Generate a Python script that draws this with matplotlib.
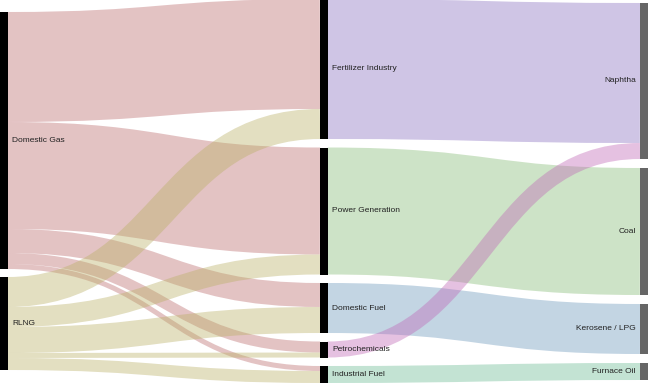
"""Sankey: gas supply -> consuming sector -> replacement fuel."""

import matplotlib

matplotlib.use("Agg")
import matplotlib.pyplot as plt
from matplotlib.patches import PathPatch, Rectangle
from matplotlib.path import Path

# ---- data -----------------------------------------------------------------
sources = ["Domestic Gas", "RLNG"]
sectors = ["Fertilizer Industry", "Power Generation", "Domestic Fuel",
           "Petrochemicals", "Industrial Fuel"]
fuels = ["Naphtha", "Coal", "Kerosene / LPG", "Furnace Oil"]

# supply into each sector (same order as `sectors`)
domestic_gas = [110, 107, 24, 11, 5]
rlng = [30, 20, 26, 5, 12]

# fuel each sector would switch to (whole sector volume flows through)
sector_fuel = ["Naphtha", "Coal", "Kerosene / LPG", "Naphtha", "Furnace Oil"]

# ---- style ----------------------------------------------------------------
link_colors = {
    "Domestic Gas": "#bb696b",
    "RLNG": "#b9af64",
    "Fertilizer Industry": "#876ec0",
    "Power Generation": "#84bb73",
    "Domestic Fuel": "#6996bb",
    "Petrochemicals": "#c066b6",
    "Industrial Fuel": "#69bb93",
}
col_x = [0, 320, 640]
col_top = [12, -1, 3]
col_pad = [8, 8.5, 9]
node_w = 7.5
node_colors = ["black", "black", "#666666"]

# ---- build links ----------------------------------------------------------
links = []
for src, vals in zip(sources, [domestic_gas, rlng]):
    for sec, v in zip(sectors, vals):
        links.append((src, sec, v))
sector_totals = [a + b for a, b in zip(domestic_gas, rlng)]
for sec, fuel, v in zip(sectors, sector_fuel, sector_totals):
    links.append((sec, fuel, v))

columns = [sources, sectors, fuels]
node_col = {n: i for i, col in enumerate(columns) for n in col}
value_in = {}
value_out = {}
for s, t, v in links:
    value_out[s] = value_out.get(s, 0) + v
    value_in[t] = value_in.get(t, 0) + v
node_val = {n: max(value_in.get(n, 0), value_out.get(n, 0)) for n in node_col}

# node vertical layout
node_y = {}
for i, col in enumerate(columns):
    y = col_top[i]
    for n in col:
        node_y[n] = (y, y + node_val[n])
        y += node_val[n] + col_pad[i]

# link offsets: outgoing sorted by target y, incoming by source y
src_off, tgt_off = {}, {}
for n in node_col:
    outs = sorted([l for l in links if l[0] == n], key=lambda l: node_y[l[1]][0])
    y = node_y[n][0]
    for l in outs:
        src_off[l] = y
        y += l[2]
    ins = sorted([l for l in links if l[1] == n], key=lambda l: node_y[l[0]][0])
    y = node_y[n][0]
    for l in ins:
        tgt_off[l] = y
        y += l[2]

# ---- draw -----------------------------------------------------------------
W, H, DPI = 648, 383, 100
fig = plt.figure(figsize=(W / DPI, H / DPI), dpi=DPI)
ax = fig.add_axes([0, 0, 1, 1])
ax.set_xlim(0, W)
ax.set_ylim(H, 0)
ax.axis("off")
pt_per_unit = 72 / DPI

for l in links:
    s, t, v = l
    x0 = col_x[node_col[s]] + node_w
    x1 = col_x[node_col[t]]
    y0 = src_off[l] + v / 2
    y1 = tgt_off[l] + v / 2
    xm = (x0 + x1) / 2
    path = Path([(x0, y0), (xm, y0), (xm, y1), (x1, y1)],
                [Path.MOVETO, Path.CURVE4, Path.CURVE4, Path.CURVE4])
    ax.add_patch(PathPatch(path, fill=False, edgecolor=link_colors[s],
                           linewidth=v * pt_per_unit, alpha=0.4,
                           capstyle="butt"))

for n, ci in node_col.items():
    y0, y1 = node_y[n]
    ax.add_patch(Rectangle((col_x[ci], y0), node_w + (0.5 if ci == 2 else 0),
                           y1 - y0, color=node_colors[ci], lw=0))
    yc = (y0 + y1) / 2
    if ci < 2:
        ax.text(col_x[ci] + node_w + 5, yc, n, ha="left", va="center",
                fontsize=6, color="#222222", family="Liberation Sans")
    else:
        ax.text(col_x[ci] - 4, yc, n, ha="right", va="center",
                fontsize=6, color="#222222", family="Liberation Sans")

fig.savefig("out.png", dpi=DPI)
